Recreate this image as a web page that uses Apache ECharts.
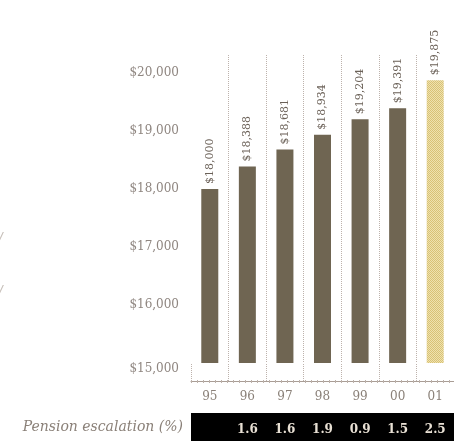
<!DOCTYPE html>
<html>
<head>
<meta charset="utf-8">
<script src="https://cdn.jsdelivr.net/npm/echarts@6/dist/echarts.min.js"></script>
<style>
  html, body { margin: 0; padding: 0; background: #ffffff; }
  #chart { width: 454px; height: 441px; }
</style>
</head>
<body>
<div id="chart"></div>
<script>
// Average pension by year, with the yearly escalation shown underneath
const categories = ['95', '96', '97', '98', '99', '00', '01'];
const pensions = [18000, 18388, 18681, 18934, 19204, 19391, 19875];
const escalation = ['', '1.6', '1.6', '1.9', '0.9', '1.5', '2.5'];
const yTicks = [15000, 16000, 17000, 18000, 19000, 20000];

const serif = '"DejaVu Serif", "Liberation Serif", serif';
const money = v => '$' + Number(v).toLocaleString('en-US');

// Fine checker tile for the latest (projected) year
function hatchTile() {
  const c = document.createElement('canvas');
  c.width = 2; c.height = 2;
  const g = c.getContext('2d');
  g.fillStyle = '#efe2ae';
  g.fillRect(0, 0, 2, 2);
  g.fillStyle = '#d8c176';
  g.fillRect(0, 0, 1, 1);
  g.fillRect(1, 1, 1, 1);
  return c;
}

const barData = pensions.map((v, i) => i === pensions.length - 1
  ? { value: v, itemStyle: { color: { image: hatchTile(), repeat: 'repeat' } } }
  : v);

const chart = echarts.init(document.getElementById('chart'), null, { renderer: 'canvas' });

chart.setOption({
  animation: false,
  backgroundColor: '#ffffff',
  grid: { left: 191, right: -9, top: 55, bottom: 78, containLabel: false },
  xAxis: [
    {
      type: 'category',
      data: categories,
      position: 'bottom',
      offset: 18,
      axisLine: { lineStyle: { color: '#a99d95', width: 1 } },
      axisTick: { show: true, inside: true, length: 18, lineStyle: { color: '#bdb2ac', type: 'dotted' } },
      splitLine: { show: true, showMinLine: false, lineStyle: { color: '#bdb2ac', type: 'dotted', width: 1 } },
      axisLabel: { color: '#8a8078', fontFamily: serif, fontSize: 12, margin: 10 }
    },
    {
      type: 'category',
      data: categories,
      position: 'bottom',
      offset: 64,
      axisLine: { lineStyle: { color: '#000000', width: 28, cap: 'butt' } },
      axisTick: { show: false },
      splitLine: { show: false },
      axisLabel: {
        color: '#e8e0d4', fontFamily: serif, fontSize: 12, fontWeight: 'bold', margin: -3,
        formatter: (v, i) => escalation[i]
      },
      name: 'Pension escalation (%)',
      nameLocation: 'start',
      nameGap: 8,
      nameTextStyle: { color: '#8a8078', fontFamily: serif, fontStyle: 'italic', fontSize: 14 }
    },
    {
      // small cross marks along the baseline
      type: 'category',
      data: categories,
      position: 'bottom',
      offset: 18,
      axisLine: { lineStyle: { color: '#bcb1aa', width: 3, type: [1, 5], cap: 'butt' } },
      axisTick: { show: false },
      splitLine: { show: false },
      axisLabel: { show: false }
    }
  ],
  yAxis: {
    type: 'value',
    min: 15000,
    max: 20310,
    axisLine: { show: false },
    axisTick: { show: false },
    splitLine: { show: false },
    axisLabel: {
      customValues: yTicks,
      formatter: money,
      color: '#8f8680',
      fontFamily: serif,
      fontSize: 12,
      margin: 12,
      verticalAlignMinLabel: 'top'
    }
  },
  series: [{
    type: 'bar',
    data: barData,
    barWidth: 17,
    itemStyle: { color: '#6f6552' },
    label: {
      show: true,
      position: 'top',
      rotate: 90,
      align: 'left',
      verticalAlign: 'middle',
      distance: 5,
      formatter: p => money(p.value),
      color: '#6b6158',
      fontFamily: serif,
      fontSize: 11
    }
  }],
  graphic: [
    { type: 'text', left: -2, top: 232, style: { text: '/', font: 'italic 14px ' + serif, fill: '#c4bcb6' } },
    { type: 'text', left: -2, top: 285, style: { text: '/', font: 'italic 14px ' + serif, fill: '#c4bcb6' } }
  ]
});
</script>
</body>
</html>
